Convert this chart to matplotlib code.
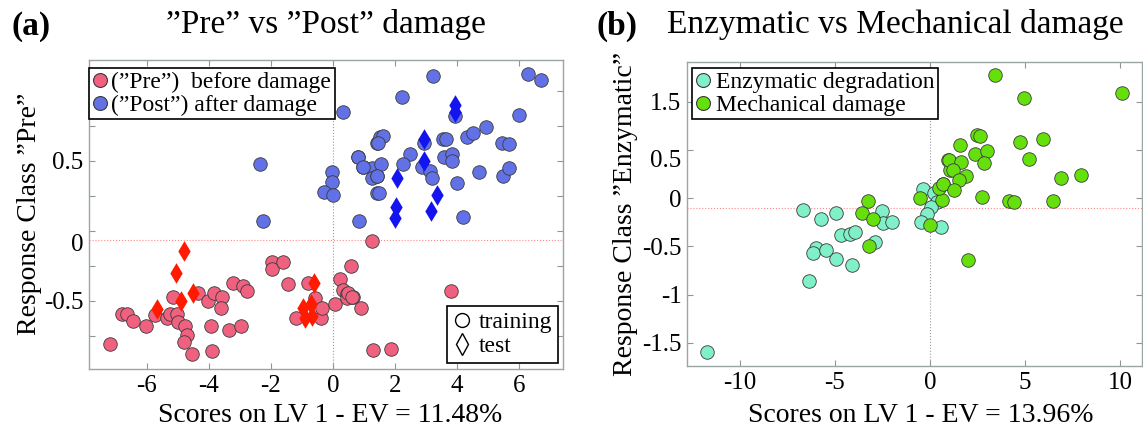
import matplotlib
matplotlib.use("Agg")
import matplotlib.pyplot as plt
from matplotlib.lines import Line2D

# ---- panel (a): "Pre" vs "Post" damage ----
pre_x = [-7.19, -6.82, -6.66, -6.44, -6.03, -5.74, -5.37, -5.26, -5.15, -5.04, -4.99,
         -4.77, -4.72, -4.81, -4.54, -4.34, -4.04, -3.95, -3.91, -3.83, -3.58, -3.61,
         -3.35, -3.24, -2.98, -2.89, -2.76, -1.97, -1.96, -1.60, -1.45, -1.19, -0.82,
         -0.58, -0.40, -0.35, 0.06, 0.23, 0.31, 0.46, 0.57, 0.44, 0.63, 0.90, 1.27,
         1.30, 1.87, 3.81, 0.50, 0.60]
pre_y = [-0.81, -0.59, -0.59, -0.64, -0.68, -0.60, -0.62, -0.59, -0.47, -0.59, -0.65,
         -0.68, -0.74, -0.79, -0.88, -0.44, -0.50, -0.68, -0.86, -0.44, -0.47, -0.55,
         -0.71, -0.37, -0.68, -0.39, -0.43, -0.22, -0.27, -0.22, -0.38, -0.62, -0.37,
         -0.48, -0.62, -0.55, -0.52, -0.34, -0.42, -0.45, -0.25, -0.48, -0.47, -0.55,
         -0.07, -0.85, -0.84, -0.43, -0.44, -0.47]

post_x = [-2.35, -2.27, 0.33, -0.04, -0.04, -0.28, -0.01, 0.85, 0.80, 0.98, 1.27,
          1.25, 1.41, 1.41, 1.41, 1.52, 3.24, 2.22, 6.30, 6.70, 6.01, 3.94, 1.62,
          1.46, 0.82, 0.96, 1.55, 1.43, 1.50, 2.50, 2.27, 2.86, 2.94, 3.13, 3.21,
          3.54, 3.66, 3.58, 3.83, 3.85, 4.01, 4.18, 4.31, 4.51, 4.93, 4.72, 5.44,
          5.69, 5.49, 5.69]
post_y = [0.48, 0.07, 0.85, 0.42, 0.35, 0.28, 0.26, 0.07, 0.53, 0.46, 0.45,
          0.38, 0.39, 0.27, 0.63, 0.67, 1.11, 0.96, 1.12, 1.08, 0.83, 0.82, 0.68,
          0.63, 0.53, 0.46, 0.48, 0.39, 0.27, 0.55, 0.48, 0.46, 0.63, 0.43, 0.38,
          0.66, 0.66, 0.53, 0.55, 0.50, 0.34, 0.10, 0.67, 0.70, 0.74, 0.42, 0.63,
          0.62, 0.39, 0.45]

pre_test_x = [-4.81, -5.06, -4.53, -4.91, -5.69, -0.60, -0.96, -0.72, -0.90, -0.67]
pre_test_y = [-0.14, -0.30, -0.44, -0.50, -0.56, -0.37, -0.55, -0.52, -0.62, -0.61]

post_test_x = [3.94, 3.94, 2.95, 2.94, 2.05, 3.34, 2.02, 2.00, 3.16]
post_test_y = [0.90, 0.85, 0.66, 0.50, 0.38, 0.26, 0.17, 0.09, 0.14]

# ---- panel (b): Enzymatic vs Mechanical damage ----
enz_x = [-6.70, -5.75, -4.95, -4.68, -4.21, -3.95, -6.00, -6.14, -5.47, -4.96, -4.12,
         -6.37, -2.89, -2.51, -2.46, -1.98, -0.39, 0.23, 0.35, 0.04, -0.14, -0.47,
         0.58, -11.72]
enz_y = [-0.12, -0.22, -0.15, -0.38, -0.37, -0.35, -0.52, -0.57, -0.54, -0.63, -0.69,
         -0.86, -0.45, -0.13, -0.26, -0.25, 0.09, 0.05, -0.04, -0.09, -0.17, -0.25,
         -0.30, -1.59]

mech_x = [-3.28, -3.56, -3.02, -3.19, -0.53, 0.00, 0.61, 0.70, 0.49, 0.96, 1.05,
          3.42, 4.95, 10.09, 2.46, 2.63, 1.58, 2.37, 2.98, 2.86, 1.02, 1.61, 1.23,
          1.88, 1.54, 0.67, 1.26, 2.72, 4.74, 5.96, 5.23, 6.89, 7.93, 4.16, 4.44,
          6.46, 1.98]
mech_y = [-0.03, -0.15, -0.22, -0.50, 0.00, -0.28, -0.02, 0.15, 0.10, 0.39, 0.29,
          1.28, 1.04, 1.09, 0.65, 0.64, 0.55, 0.46, 0.49, 0.36, 0.39, 0.37, 0.29,
          0.23, 0.19, 0.15, 0.08, 0.01, 0.58, 0.61, 0.41, 0.21, 0.24, -0.03, -0.04,
          -0.03, -0.64]

plt.rcParams['font.family'] = ['Liberation Serif', 'DejaVu Serif']

W, H = 1143, 436
fig = plt.figure(figsize=(W / 100, H / 100), dpi=100)


def px_axes(l, t, r, b):
    return fig.add_axes([l / W, 1 - b / H, (r - l) / W, (b - t) / H])


def style(ax, xmarks, ymarks, xlabpos, xlabs, ylabpos, ylabs):
    ax.set_xticks(xlabpos)
    ax.set_xticklabels(xlabs)
    ax.set_yticks(ylabpos)
    ax.set_yticklabels(ylabs)
    ax.set_xticks(xmarks, minor=True)
    ax.set_yticks(ymarks, minor=True)
    ax.xaxis.remove_overlapping_locs = False
    ax.yaxis.remove_overlapping_locs = False
    ax.tick_params(which='major', length=0, labelsize=18, pad=4)
    ax.tick_params(which='minor', direction='in', length=4, width=0.8,
                   color='#8c9797', top=True, right=True)
    for s in ax.spines.values():
        s.set_color('#9aa6a6')
        s.set_linewidth(1.0)


edge = '#3a3a3a'
ms = 95

# panel (a)
ax1 = px_axes(89, 60, 563, 369)
ax1.set_xlim(-7.87, 7.42)
ax1.set_ylim(-0.986, 1.221)
ax1.axhline(-0.065, color='#ff8a8a', lw=0.8, ls=':', zorder=1)
ax1.axvline(0, color='#9a9a9a', lw=0.8, ls=':', zorder=1)
ax1.scatter(pre_x, pre_y, s=ms, c='#f0607f', edgecolors=edge, linewidths=0.6, zorder=2)
ax1.scatter(post_x, post_y, s=ms, c='#6272e6', edgecolors=edge, linewidths=0.6, zorder=2)
ax1.scatter(pre_test_x, pre_test_y, s=110, marker='d', c='#ff1a00', linewidths=0, zorder=3)
ax1.scatter(post_test_x, post_test_y, s=110, marker='d', c='#1414ee', linewidths=0, zorder=3)
style(ax1, [-6, -4, -2, 0, 2, 4, 6], [-0.75, -0.5, -0.25, 0, 0.25, 0.5, 0.75, 1.0],
      [-6, -4, -2, 0, 2, 4, 6], ['-6', '-4', '-2', '0', '2', '4', '6'],
      [0.5, -0.08, -0.5], ['0.5', '0', '-0.5'])

h_cls = [Line2D([], [], ls='', marker='o', ms=10, mfc='#f0607f', mec=edge, mew=0.8),
         Line2D([], [], ls='', marker='o', ms=10, mfc='#6272e6', mec=edge, mew=0.8)]
leg1 = ax1.legend(h_cls, ['(\u201dPre\u201d)  before damage', '(\u201dPost\u201d) after damage'],
                  loc='upper left', bbox_to_anchor=(0.0, 0.974), borderaxespad=0,
                  fontsize=17, frameon=True, fancybox=False, edgecolor='black',
                  framealpha=1, handlelength=0.6, handletextpad=0.2,
                  labelspacing=0.05, borderpad=0.15)
leg1.get_frame().set_linewidth(1.2)
ax1.add_artist(leg1)
h_set = [Line2D([], [], ls='', marker='o', ms=10, mfc='white', mec='black', mew=1.0),
         Line2D([], [], ls='', marker='d', ms=11, mfc='white', mec='black', mew=1.0)]
leg2 = ax1.legend(h_set, ['training', 'test'], loc='lower right',
                  bbox_to_anchor=(0.989, 0.019), borderaxespad=0, fontsize=17,
                  frameon=True, fancybox=False, edgecolor='black', framealpha=1,
                  handlelength=0.8, handletextpad=0.3, labelspacing=0.1, borderpad=0.25)
leg2.get_frame().set_linewidth(1.2)

# panel (b)
ax2 = px_axes(687, 62, 1142, 366)
ax2.set_xlim(-12.79, 11.16)
ax2.set_ylim(-1.74, 1.41)
ax2.axhline(-0.1, color='#ff8a8a', lw=0.8, ls=':', zorder=1)
ax2.axvline(0, color='#9a9a9a', lw=0.8, ls=':', zorder=1)
ax2.scatter(enz_x, enz_y, s=ms, c='#80f0c8', edgecolors=edge, linewidths=0.6, zorder=2)
ax2.scatter(mech_x, mech_y, s=ms, c='#66e00c', edgecolors=edge, linewidths=0.6, zorder=2)
style(ax2, [-10, -5, 0, 5, 10], [-1.5, -1, -0.5, 0, 0.5, 1.0],
      [-10, -5, 0, 5, 10], ['-10', '-5', '0', '5', '10'],
      [1.0, 0.41, 0, -0.5, -1, -1.5], ['1.5', '0.5', '0', '-0.5', '-1', '-1.5'])
h_b = [Line2D([], [], ls='', marker='o', ms=10, mfc='#80f0c8', mec=edge, mew=0.8),
       Line2D([], [], ls='', marker='o', ms=10, mfc='#66e00c', mec=edge, mew=0.8)]
leg3 = ax2.legend(h_b, ['Enzymatic degradation', 'Mechanical damage'],
                  loc='upper left', bbox_to_anchor=(0.011, 0.980), borderaxespad=0,
                  fontsize=17, frameon=True, fancybox=False, edgecolor='black',
                  framealpha=1, handlelength=0.6, handletextpad=0.25,
                  labelspacing=0.05, borderpad=0.15)
leg3.get_frame().set_linewidth(1.2)

# titles and axis labels
def ftext(x, y, s, **kw):
    fig.text(x / W, 1 - y / H, s, ha='center', va='center', **kw)


ftext(31, 26, '(a)', fontsize=24, fontweight='bold')
ftext(326, 25, '\u201dPre\u201d vs \u201dPost\u201d damage', fontsize=24)
ftext(617, 26, '(b)', fontsize=24, fontweight='bold')
ftext(895, 25, 'Enzymatic vs Mechanical damage', fontsize=24)
ftext(330, 415, 'Scores on LV 1 - EV = 11.48%', fontsize=20)
ftext(921, 415, 'Scores on LV 1 - EV = 13.96%', fontsize=20)
ftext(30, 214, 'Response Class \u201dPre\u201d', fontsize=20, rotation=90)
ftext(625, 214, 'Response Class \u201dEnzymatic\u201d', fontsize=20, rotation=90)

fig.savefig('out.png', dpi=100)
